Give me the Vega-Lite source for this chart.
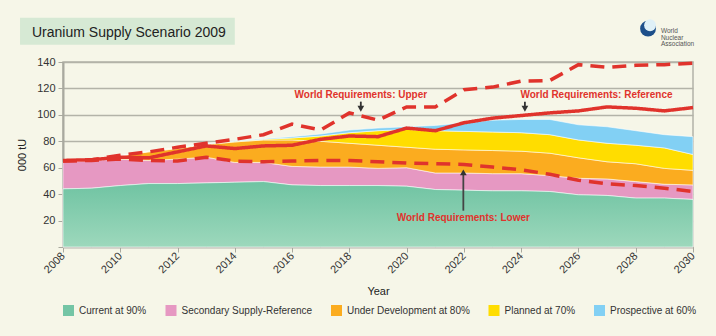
{
  "$schema": "https://vega.github.io/schema/vega-lite/v6.json",
  "width": 630,
  "height": 185,
  "autosize": {"type": "none"},
  "padding": {"left": 63, "top": 62, "right": 23, "bottom": 89},
  "background": "#f6f6e8",
  "title": {"text": "Uranium Supply Scenario 2009", "anchor": "start", "frame": "group", "dx": -31, "dy": 44, "offset": 22, "fontSize": 14, "fontWeight": "normal", "font": "Liberation Sans", "color": "#222222"},
  "config": {
    "font": "Liberation Sans",
    "view": {"stroke": "#b3b3a8", "strokeWidth": 1.5},
    "axis": {"labelFont": "Liberation Sans", "titleFont": "Liberation Sans", "labelColor": "#333333", "titleColor": "#222222", "titleFontWeight": "normal", "domainColor": "#a9a99f", "tickColor": "#a9a99f", "gridColor": "#b3b3a8", "labelOverlap": false},
    "axisY": {"tickCount": 8}
  },
  "datasets": {
    "supply": [
      {"year": 2008, "Current at 90%": 44, "Secondary Supply-Reference": 20.5, "Under Development at 80%": 0, "Planned at 70%": 0, "Prospective at 60%": 0},
      {"year": 2009, "Current at 90%": 44.5, "Secondary Supply-Reference": 21, "Under Development at 80%": 0, "Planned at 70%": 0, "Prospective at 60%": 0},
      {"year": 2010, "Current at 90%": 46.5, "Secondary Supply-Reference": 20, "Under Development at 80%": 2.5, "Planned at 70%": 0, "Prospective at 60%": 0},
      {"year": 2011, "Current at 90%": 48, "Secondary Supply-Reference": 17.5, "Under Development at 80%": 6.5, "Planned at 70%": 0.5, "Prospective at 60%": 0},
      {"year": 2012, "Current at 90%": 48, "Secondary Supply-Reference": 18.5, "Under Development at 80%": 8, "Planned at 70%": 0.5, "Prospective at 60%": 0},
      {"year": 2013, "Current at 90%": 48.5, "Secondary Supply-Reference": 19.5, "Under Development at 80%": 9.5, "Planned at 70%": 0.5, "Prospective at 60%": 0.2},
      {"year": 2014, "Current at 90%": 49, "Secondary Supply-Reference": 15, "Under Development at 80%": 15.5, "Planned at 70%": 0.5, "Prospective at 60%": 0.5},
      {"year": 2015, "Current at 90%": 49.5, "Secondary Supply-Reference": 14.5, "Under Development at 80%": 17, "Planned at 70%": 0.5, "Prospective at 60%": 0.5},
      {"year": 2016, "Current at 90%": 47, "Secondary Supply-Reference": 14, "Under Development at 80%": 20, "Planned at 70%": 1.5, "Prospective at 60%": 1},
      {"year": 2017, "Current at 90%": 46.5, "Secondary Supply-Reference": 14, "Under Development at 80%": 19.5, "Planned at 70%": 4, "Prospective at 60%": 1.5},
      {"year": 2018, "Current at 90%": 46.5, "Secondary Supply-Reference": 14, "Under Development at 80%": 18, "Planned at 70%": 8, "Prospective at 60%": 2},
      {"year": 2019, "Current at 90%": 46.5, "Secondary Supply-Reference": 13, "Under Development at 80%": 17.5, "Planned at 70%": 11, "Prospective at 60%": 2},
      {"year": 2020, "Current at 90%": 46, "Secondary Supply-Reference": 14, "Under Development at 80%": 15.5, "Planned at 70%": 13.5, "Prospective at 60%": 2},
      {"year": 2021, "Current at 90%": 43.5, "Secondary Supply-Reference": 12.5, "Under Development at 80%": 18, "Planned at 70%": 14, "Prospective at 60%": 4},
      {"year": 2022, "Current at 90%": 43, "Secondary Supply-Reference": 13, "Under Development at 80%": 17.5, "Planned at 70%": 14, "Prospective at 60%": 6.5},
      {"year": 2023, "Current at 90%": 42.5, "Secondary Supply-Reference": 13, "Under Development at 80%": 17.5, "Planned at 70%": 14, "Prospective at 60%": 9},
      {"year": 2024, "Current at 90%": 42.5, "Secondary Supply-Reference": 13, "Under Development at 80%": 17, "Planned at 70%": 14, "Prospective at 60%": 10},
      {"year": 2025, "Current at 90%": 42, "Secondary Supply-Reference": 12, "Under Development at 80%": 17, "Planned at 70%": 14, "Prospective at 60%": 11.5},
      {"year": 2026, "Current at 90%": 39.5, "Secondary Supply-Reference": 12.5, "Under Development at 80%": 15.5, "Planned at 70%": 13.5, "Prospective at 60%": 11.5},
      {"year": 2027, "Current at 90%": 39, "Secondary Supply-Reference": 12.5, "Under Development at 80%": 13, "Planned at 70%": 14, "Prospective at 60%": 12.5},
      {"year": 2028, "Current at 90%": 37, "Secondary Supply-Reference": 12.5, "Under Development at 80%": 13.5, "Planned at 70%": 14, "Prospective at 60%": 11},
      {"year": 2029, "Current at 90%": 37, "Secondary Supply-Reference": 10.5, "Under Development at 80%": 12, "Planned at 70%": 15.5, "Prospective at 60%": 10},
      {"year": 2030, "Current at 90%": 36, "Secondary Supply-Reference": 11, "Under Development at 80%": 11, "Planned at 70%": 12, "Prospective at 60%": 13.5}
    ],
    "requirements": [
      {"year": 2008, "Reference": 65.5, "Upper": 65, "Lower": 65},
      {"year": 2009, "Reference": 66, "Upper": 66, "Lower": 65.5},
      {"year": 2010, "Reference": 68, "Upper": 69.5, "Lower": 66.5},
      {"year": 2011, "Reference": 67.5, "Upper": 72, "Lower": 65.5},
      {"year": 2012, "Reference": 72, "Upper": 75.5, "Lower": 65},
      {"year": 2013, "Reference": 76.5, "Upper": 78.5, "Lower": 68},
      {"year": 2014, "Reference": 74.5, "Upper": 81.5, "Lower": 65},
      {"year": 2015, "Reference": 76.5, "Upper": 85, "Lower": 64.5},
      {"year": 2016, "Reference": 77, "Upper": 93, "Lower": 65},
      {"year": 2017, "Reference": 81.5, "Upper": 88.5, "Lower": 65.5},
      {"year": 2018, "Reference": 84, "Upper": 101.5, "Lower": 65.5},
      {"year": 2019, "Reference": 83.5, "Upper": 96, "Lower": 64.5},
      {"year": 2020, "Reference": 90, "Upper": 106, "Lower": 63.5},
      {"year": 2021, "Reference": 88, "Upper": 106, "Lower": 63},
      {"year": 2022, "Reference": 94, "Upper": 119, "Lower": 62.5},
      {"year": 2023, "Reference": 97.5, "Upper": 121, "Lower": 60.5},
      {"year": 2024, "Reference": 99.5, "Upper": 125.5, "Lower": 58.5},
      {"year": 2025, "Reference": 101.5, "Upper": 126, "Lower": 55},
      {"year": 2026, "Reference": 103, "Upper": 138, "Lower": 50.5},
      {"year": 2027, "Reference": 106, "Upper": 136, "Lower": 47.8},
      {"year": 2028, "Reference": 105, "Upper": 137.5, "Lower": 46.5},
      {"year": 2029, "Reference": 103, "Upper": 138, "Lower": 44.5},
      {"year": 2030, "Reference": 105.5, "Upper": 139, "Lower": 42}
    ]
  },
  "layer": [
    {
      "data": {"values": [{}]},
      "mark": {"type": "rect", "color": "#d6e9d4", "opacity": 1},
      "encoding": {"x": {"datum": 2006.5, "type": "quantitative", "axis": {"labelOverlap": false}}, "x2": {"datum": 2014.0}, "y": {"datum": 153, "type": "quantitative", "axis": {"labelOverlap": false}}, "y2": {"datum": 173.5}}
    },
    {
      "encoding": {
        "x": {"field": "year", "type": "quantitative", "title": "Year",
          "scale": {"domain": [2008, 2030], "nice": false, "zero": false},
          "axis": {"values": [2008, 2010, 2012, 2014, 2016, 2018, 2020, 2022, 2024, 2026, 2028, 2030], "labelOverlap": false, "format": "d", "labelAngle": -45, "labelAlign": "right", "labelBaseline": "middle", "grid": false, "tickSize": 5, "labelPadding": 2, "labelFontSize": 11, "titleFontSize": 11, "titlePadding": 11, "domainWidth": 1.5}},
        "y": {"field": "value", "type": "quantitative", "title": "000 tU",
          "scale": {"domain": [0, 140], "nice": false},
          "axis": {"values": [0, 20, 40, 60, 80, 100, 120, 140], "labelOverlap": false, "labelExpr": "datum.value == 0 ? '' : datum.label", "grid": true, "gridWidth": 1.5, "domainWidth": 2, "tickSize": 5, "labelPadding": 3, "labelFontSize": 11, "titleFontSize": 11, "titlePadding": 9}}
      },
      "layer": [
        {
          "data": {"name": "supply"},
          "transform": [
            {"fold": ["Current at 90%", "Secondary Supply-Reference", "Under Development at 80%", "Planned at 70%", "Prospective at 60%"], "as": ["source", "value"]},
            {"window": [{"op": "row_number", "as": "rank"}], "groupby": ["year"]}
          ],
          "mark": {"type": "area", "stroke": "#ffffff", "strokeWidth": 0.8, "strokeOpacity": 0.7},
          "encoding": {
            "order": {"field": "rank", "type": "quantitative", "sort": "ascending"},
            "color": {"field": "source", "type": "nominal",
              "scale": {"domain": ["Current at 90%", "Secondary Supply-Reference", "Under Development at 80%", "Planned at 70%", "Prospective at 60%"], "range": ["#74c5a5", "#e698c2", "#fbac1f", "#ffdd00", "#82d0f4"]},
              "legend": {"orient": "none", "legendX": 0, "legendY": 243, "direction": "horizontal", "title": null, "symbolType": "square", "symbolSize": 121, "symbolStrokeWidth": 0, "labelFontSize": 10, "labelFont": "Liberation Sans", "labelColor": "#333333", "columnPadding": 18.5, "labelOffset": 5, "padding": 0}}
          }
        },
        {
          "data": {"name": "supply"},
          "transform": [
            {"fold": ["Current at 90%"], "as": ["source", "value"]}
          ],
          "mark": {"type": "area", "stroke": "#ffffff", "strokeWidth": 0.8, "strokeOpacity": 0.7,
            "color": {"gradient": "linear", "x1": 0, "y1": 0, "x2": 0, "y2": 1, "stops": [{"offset": 0, "color": "#6fc3a2"}, {"offset": 1, "color": "#9dd8bc"}]}}
        },
        {
          "data": {"name": "requirements"},
          "transform": [{"fold": ["Reference", "Upper", "Lower"], "as": ["scenario", "value"]}],
          "mark": {"type": "line", "color": "#e0332c", "strokeWidth": 3.5, "strokeCap": "butt"},
          "encoding": {
            "strokeDash": {"field": "scenario", "type": "nominal", "scale": {"domain": ["Reference", "Upper", "Lower"], "range": [[1, 0], [14, 8], [14, 8]]}, "legend": null}
          }
        }
      ]
    },
    {
      "data": {"values": [{}]},
      "mark": {"type": "rule", "color": "#333333", "strokeWidth": 1.8},
      "encoding": {"x": {"datum": 2018.4, "type": "quantitative", "axis": {"labelOverlap": false}}, "y": {"datum": 110, "type": "quantitative", "axis": {"labelOverlap": false}}, "y2": {"datum": 105}}
    },
    {
      "data": {"values": [{}]},
      "mark": {"type": "point", "shape": "triangle-down", "filled": true, "color": "#333333", "size": 45, "opacity": 1},
      "encoding": {"x": {"datum": 2018.4, "type": "quantitative", "axis": {"labelOverlap": false}}, "y": {"datum": 104.6, "type": "quantitative", "axis": {"labelOverlap": false}}}
    },
    {
      "data": {"values": [{}]},
      "mark": {"type": "rule", "color": "#333333", "strokeWidth": 1.8},
      "encoding": {"x": {"datum": 2024.13, "type": "quantitative", "axis": {"labelOverlap": false}}, "y": {"datum": 110, "type": "quantitative", "axis": {"labelOverlap": false}}, "y2": {"datum": 105}}
    },
    {
      "data": {"values": [{}]},
      "mark": {"type": "point", "shape": "triangle-down", "filled": true, "color": "#333333", "size": 45, "opacity": 1},
      "encoding": {"x": {"datum": 2024.13, "type": "quantitative", "axis": {"labelOverlap": false}}, "y": {"datum": 104.6, "type": "quantitative", "axis": {"labelOverlap": false}}}
    },
    {
      "data": {"values": [{}]},
      "mark": {"type": "rule", "color": "#444444", "strokeWidth": 1.8},
      "encoding": {"x": {"datum": 2021.98, "type": "quantitative", "axis": {"labelOverlap": false}}, "y": {"datum": 27.5, "type": "quantitative", "axis": {"labelOverlap": false}}, "y2": {"datum": 55}}
    },
    {
      "data": {"values": [{}]},
      "mark": {"type": "point", "shape": "triangle-up", "filled": true, "color": "#333333", "size": 45, "opacity": 1},
      "encoding": {"x": {"datum": 2021.98, "type": "quantitative", "axis": {"labelOverlap": false}}, "y": {"datum": 56.5, "type": "quantitative", "axis": {"labelOverlap": false}}}
    },
    {
      "data": {"values": [{}]},
      "mark": {"type": "text", "text": "World Requirements: Upper", "font": "Liberation Sans", "fontSize": 10, "fontWeight": "bold", "color": "#e0332c", "align": "center", "baseline": "middle"},
      "encoding": {"x": {"datum": 2018.4, "type": "quantitative", "axis": {"labelOverlap": false}}, "y": {"datum": 115.2, "type": "quantitative", "axis": {"labelOverlap": false}}}
    },
    {
      "data": {"values": [{}]},
      "mark": {"type": "text", "text": "World Requirements: Reference", "font": "Liberation Sans", "fontSize": 10, "fontWeight": "bold", "color": "#e0332c", "align": "center", "baseline": "middle"},
      "encoding": {"x": {"datum": 2026.63, "type": "quantitative", "axis": {"labelOverlap": false}}, "y": {"datum": 115.2, "type": "quantitative", "axis": {"labelOverlap": false}}}
    },
    {
      "data": {"values": [{}]},
      "mark": {"type": "text", "text": "World Requirements: Lower", "font": "Liberation Sans", "fontSize": 10, "fontWeight": "bold", "color": "#e0332c", "align": "center", "baseline": "middle"},
      "encoding": {"x": {"datum": 2021.98, "type": "quantitative", "axis": {"labelOverlap": false}}, "y": {"datum": 22.3, "type": "quantitative", "axis": {"labelOverlap": false}}}
    },
    {
      "data": {"values": [{}]},
      "mark": {"type": "point", "shape": "circle", "filled": true, "color": "#1d4f8a", "size": 250, "opacity": 1},
      "encoding": {"x": {"datum": 2028.43, "type": "quantitative", "axis": {"labelOverlap": false}}, "y": {"datum": 165.2, "type": "quantitative", "axis": {"labelOverlap": false}}}
    },
    {
      "data": {"values": [{}]},
      "mark": {"type": "point", "shape": "circle", "filled": true, "color": "#dff0f7", "size": 140, "opacity": 1},
      "encoding": {"x": {"datum": 2028.5, "type": "quantitative", "axis": {"labelOverlap": false}}, "y": {"datum": 167.8, "type": "quantitative", "axis": {"labelOverlap": false}}}
    },
    {
      "data": {"values": [{}]},
      "mark": {"type": "text", "text": ["World", "Nuclear", "Association"], "font": "Liberation Sans", "fontSize": 6.5, "lineHeight": 6.3, "color": "#555555", "align": "left", "baseline": "middle"},
      "encoding": {"x": {"datum": 2028.88, "type": "quantitative", "axis": {"labelOverlap": false}}, "y": {"datum": 163.3, "type": "quantitative", "axis": {"labelOverlap": false}}}
    }
  ]
}
